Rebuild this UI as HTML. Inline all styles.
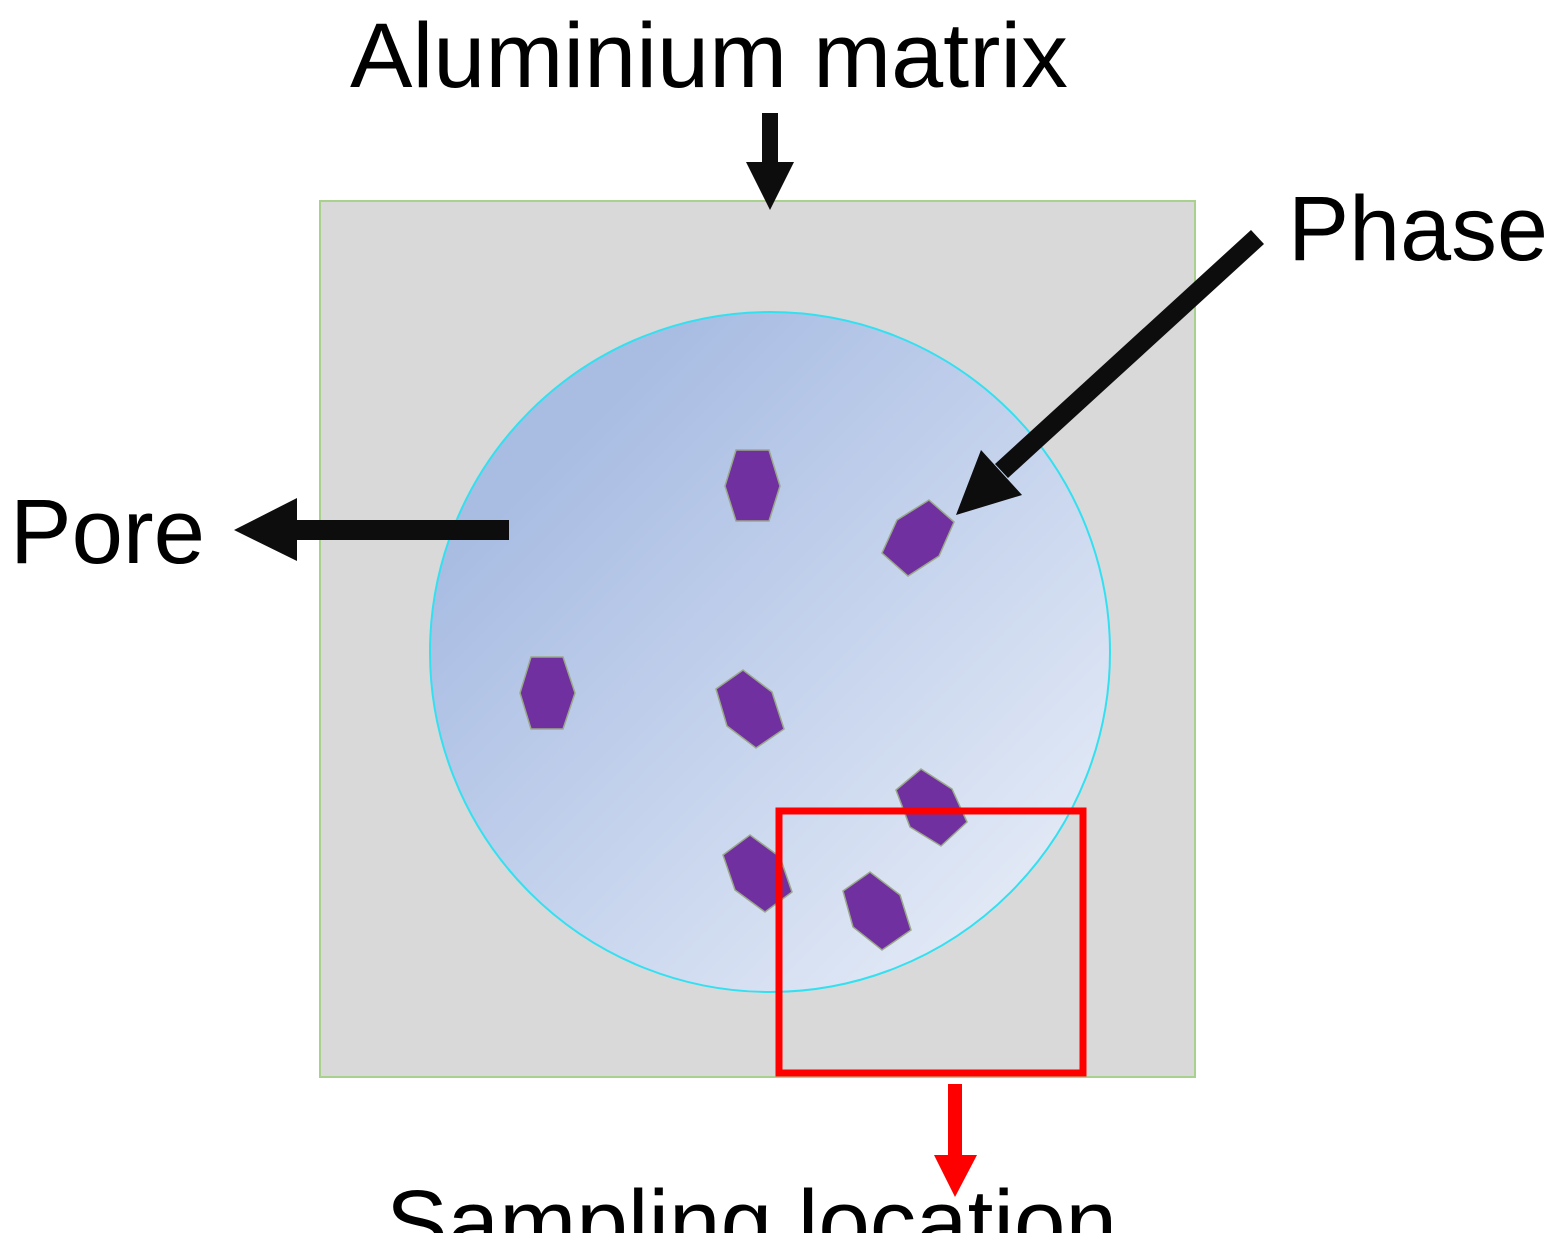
<!DOCTYPE html>
<html><head><style>html,body{margin:0;padding:0;background:#fff;}svg{display:block}</style></head>
<body>
<svg width="1566" height="1233" viewBox="0 0 1566 1233" xmlns="http://www.w3.org/2000/svg">
<defs>
<linearGradient id="g" x1="0" y1="0" x2="1" y2="1">
<stop offset="0.2" stop-color="#a9bde3"/>
<stop offset="1" stop-color="#edf2fa"/>
</linearGradient>
</defs>
<rect x="320" y="201" width="875" height="876" fill="#d9d9d9" stroke="#a9d18e" stroke-width="2"/>
<circle cx="770" cy="652" r="340" fill="url(#g)" stroke="#33e0f0" stroke-width="2"/>
<g fill="#7030a0" stroke="#9aa88a" stroke-width="1.5">
<polygon points="736,450 769,450 780,486 769,521 736,521 725,486"/>
<polygon points="897,520 929,500 954,522 939,556 908,576 882,553"/>
<polygon points="531,657 563,657 575,693 563,729 531,729 520,693"/>
<polygon points="716,689 743,670 772,692 784,729 756,748 727,726"/>
<polygon points="896,790 921,769 952,789 967,822 941,846 910,827"/>
<polygon points="723,855 750,835 780,857 792,892 765,912 735,890"/>
<polygon points="843,891 870,872 900,895 911,930 882,950 853,927"/>
</g>
<rect x="779" y="811" width="304" height="262" fill="none" stroke="#ff0000" stroke-width="7"/>
<g fill="#0d0d0d">
<rect x="762" y="113" width="16" height="50"/>
<polygon points="746,162 794,162 770,210"/>
<rect x="296" y="520" width="213" height="20"/>
<polygon points="297,498 297,561 234,530"/>
<polygon points="1251,230 1264,244 1008,478 995,464"/>
<polygon points="956,515 981,450 1022,495"/>
</g>
<rect x="948" y="1084" width="14" height="72" fill="#ff0000"/>
<polygon points="934,1155 977,1155 955,1197" fill="#ff0000"/>
<g font-family="Liberation Sans, sans-serif" font-size="92" fill="#000">
<text x="350" y="87" textLength="718" lengthAdjust="spacingAndGlyphs">Aluminium matrix</text>
<text x="1288" y="260" textLength="260" lengthAdjust="spacingAndGlyphs">Phase</text>
<text x="10" y="563" textLength="195" lengthAdjust="spacingAndGlyphs">Pore</text>
<text x="386" y="1254" textLength="731" lengthAdjust="spacingAndGlyphs">Sampling location</text>
</g>
</svg>
</body></html>
